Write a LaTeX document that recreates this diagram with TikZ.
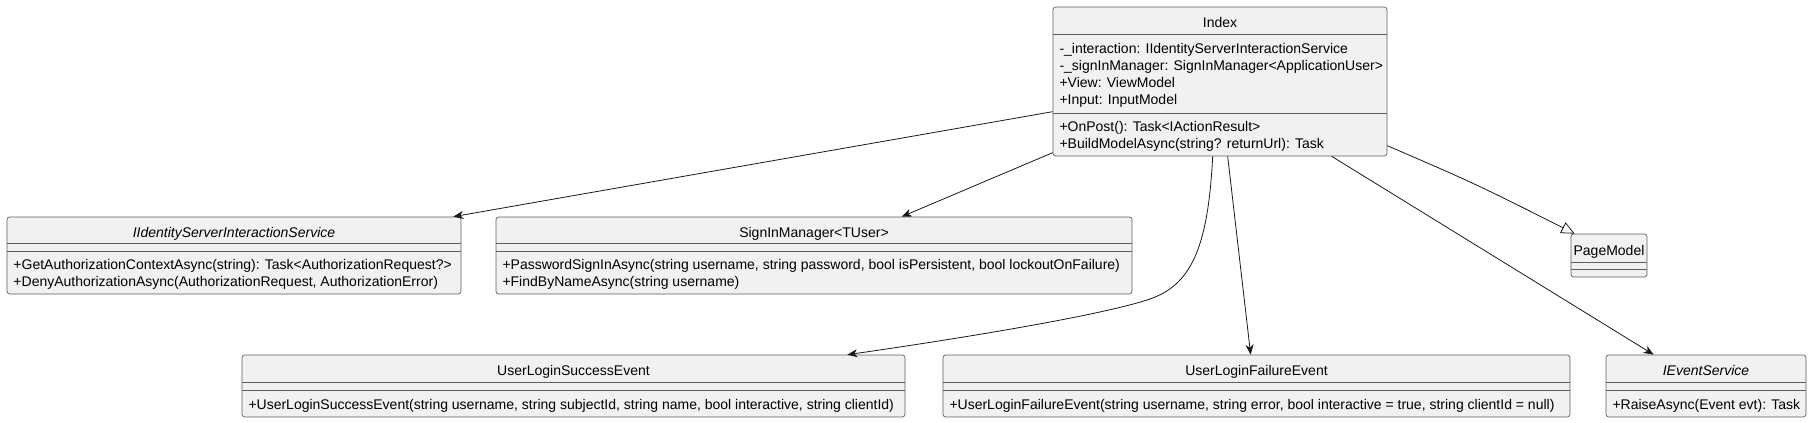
\documentclass[tikz,border=0pt]{standalone}
\usepackage{fontspec}
\setmainfont{Liberation Sans}
\usetikzlibrary{arrows.meta,calc,fit}
\definecolor{classfill}{HTML}{F1F1F1}
\definecolor{classline}{HTML}{181818}
\tikzset{every picture/.style={line width=0.75pt}}
\tikzset{
  classbox/.style={draw=classline!70, line width=0.5pt, fill=classfill, rounded corners=2pt, inner sep=0pt},
  sepline/.style={draw=classline!70, line width=0.5pt},
  umltext/.style={inner sep=0pt, font=\fontsize{10.5}{12}\selectfont, text=black},
  assoc/.style={draw=classline, line width=0.6pt, -{Stealth[length=7.5pt,width=6pt,inset=2.2pt]}},
  inherit/.style={draw=classline, line width=0.6pt, -{Triangle[open,length=10pt,width=9pt,fill=white]}}
}
\begin{document}
\begin{tikzpicture}[x=0.75pt,y=0.75pt,yscale=-1,xscale=1]
\useasboundingbox (0,0) rectangle (1813,422);

%Class: Index
\node [classbox, fit={(1053,7) (1387,156)}] (index) {};
\draw [sepline] (1053,34) -- (1387,34) (1053,113) -- (1387,113);
\node [umltext, anchor=base] (index-t) at (1220,27.5) {Index};
\node [umltext, anchor=base west] (index-a1) at (1059,53) {-\_interaction: IIdentityServerInteractionService};
\node [umltext, anchor=base west] (index-a2) at (1059,70) {-\_signInManager: SignInManager<ApplicationUser>};
\node [umltext, anchor=base west] (index-a3) at (1059,87) {+View: ViewModel};
\node [umltext, anchor=base west] (index-a4) at (1059,104) {+Input: InputModel};
\node [umltext, anchor=base west] (index-m1) at (1059,131.5) {+OnPost(): Task<IActionResult>};
\node [umltext, anchor=base west] (index-m2) at (1059,148.5) {+BuildModelAsync(string? returnUrl): Task};

%Class: IIdentityServerInteractionService
\node [classbox, fit={(7,217) (461,294)}] (iis) {};
\draw [sepline] (7,243.5) -- (461,243.5) (7,251) -- (461,251);
\node [umltext, anchor=base] (iis-t) at (234,237) {\itshape IIdentityServerInteractionService};
\node [umltext, anchor=base west] (iis-m1) at (13,269.5) {+GetAuthorizationContextAsync(string): Task<AuthorizationRequest?>};
\node [umltext, anchor=base west] (iis-m2) at (13,286.5) {+DenyAuthorizationAsync(AuthorizationRequest, AuthorizationError)};

%Class: SignInManager
\node [classbox, fit={(496,217) (1132,294)}] (sim) {};
\draw [sepline] (496,243.5) -- (1132,243.5) (496,251) -- (1132,251);
\node [umltext, anchor=base] (sim-t) at (814,237) {SignInManager<TUser>};
\node [umltext, anchor=base west] (sim-m1) at (502,269.5) {+PasswordSignInAsync(string username, string password, bool isPersistent, bool lockoutOnFailure)};
\node [umltext, anchor=base west] (sim-m2) at (502,286.5) {+FindByNameAsync(string username)};

%Class: PageModel
\node [classbox, fit={(1571,234) (1647,277)}] (pm) {};
\draw [sepline] (1571,262) -- (1647,262) (1571,269) -- (1647,269);
\node [umltext, anchor=base] (pm-t) at (1609,255.5) {PageModel};

%Class: UserLoginSuccessEvent
\node [classbox, fit={(242,355) (905,417)}] (ulse) {};
\draw [sepline] (242,382) -- (905,382) (242,390) -- (905,390);
\node [umltext, anchor=base] (ulse-t) at (573.5,375.5) {UserLoginSuccessEvent};
\node [umltext, anchor=base west] (ulse-m1) at (248,409.5) {+UserLoginSuccessEvent(string username, string subjectId, string name, bool interactive, string clientId)};

%Class: UserLoginFailureEvent
\node [classbox, fit={(943,355) (1570,417)}] (ulfe) {};
\draw [sepline] (943,382) -- (1570,382) (943,390) -- (1570,390);
\node [umltext, anchor=base] (ulfe-t) at (1256.5,375.5) {UserLoginFailureEvent};
\node [umltext, anchor=base west] (ulfe-m1) at (949,409.5) {+UserLoginFailureEvent(string username, string error, bool interactive = true, string clientId = null)};

%Class: IEventService
\node [classbox, fit={(1606,355) (1806,417)}] (ies) {};
\draw [sepline] (1606,382) -- (1806,382) (1606,390) -- (1806,390);
\node [umltext, anchor=base] (ies-t) at (1706,375.5) {\itshape IEventService};
\node [umltext, anchor=base west] (ies-m1) at (1612,409.5) {+RaiseAsync(Event evt): Task};

%Connectors
\draw [assoc] ($(index.north west)+(0,105)$) -- ($(iis.north east)+(-8,0)$);
\draw [assoc] ($(index.north west)+(0,146)$) -- ($(sim.north west)+(406,0)$);
\draw [assoc] ($(index.south west)+(160,0)$) .. controls (1208,250) and (1190,285) .. (1150,299) .. controls (1100,316) and (950,340) .. ($(ulse.north east)+(-58,0)$);
\draw [assoc] ($(index.south west)+(175,0)$) -- ($(ulfe.north west)+(308,0)$);
\draw [assoc] ($(index.south west)+(279,0)$) -- ($(ies.north west)+(48,0)$);
\draw [inherit] ($(index.north east)+(0,139)$) .. controls (1476,184) .. ($(pm.north west)+(4,0)$);

\end{tikzpicture}
\end{document}
